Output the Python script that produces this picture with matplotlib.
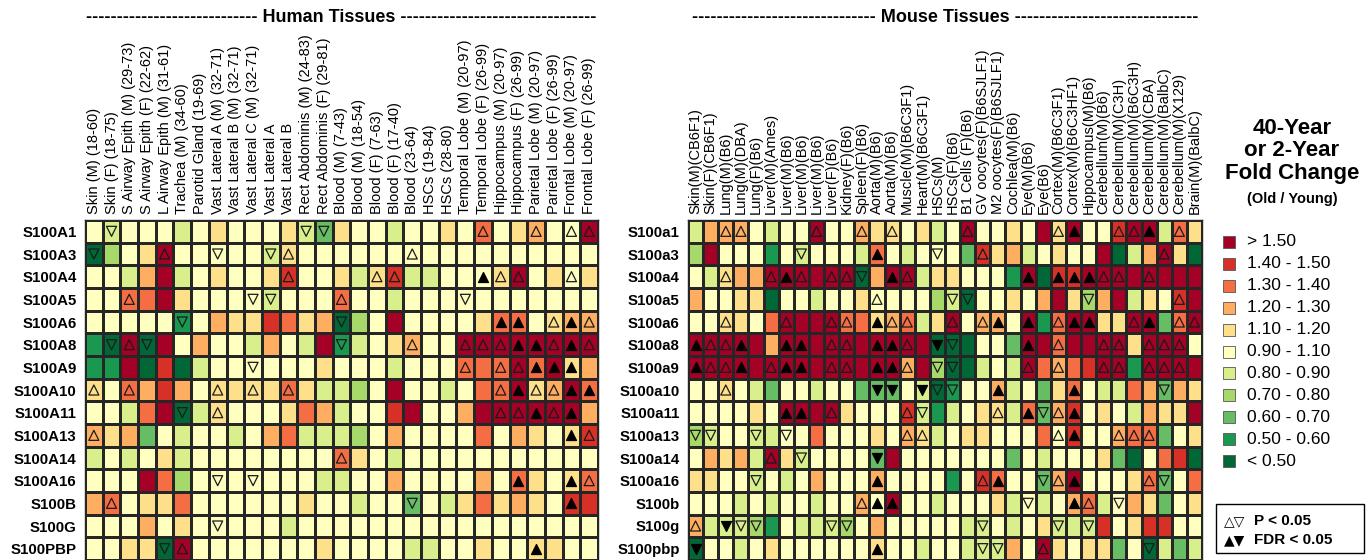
import numpy as np
import matplotlib
matplotlib.use('Agg')
import matplotlib.pyplot as plt
from matplotlib.colors import ListedColormap, BoundaryNorm
from matplotlib.patches import Rectangle

plt.rcParams['font.family'] = ['Liberation Sans', 'DejaVu Sans']


def row(s):
    # rows are typed in groups of five columns for readability
    return ''.join(s.split())


# fold-change bins: 0 = <0.50 ... 5 = 0.90-1.10 ... a(10) = >1.50
bin_labels = ['< 0.50', '0.50 - 0.60', '0.60 - 0.70', '0.70 - 0.80', '0.80 - 0.90',
              '0.90 - 1.10', '1.10 - 1.20', '1.20 - 1.30', '1.30 - 1.40',
              '1.40 - 1.50', '> 1.50']
bin_colors = ['#006837', '#1a9850', '#66bd63', '#a6d96a', '#d9ef8b', '#ffffbf',
              '#fee08b', '#fdae61', '#f46d43', '#d73027', '#a50026']

# significance: u/d = open up/down (P < 0.05), U/D = filled up/down (FDR < 0.05)

human_tissues = [
    'Skin (M) (18-60)', 'Skin (F) (18-75)', 'S Airway Epith (M) (29-73)',
    'S Airway Epith (F) (22-62)', 'L Airway Epith (M) (31-61)', 'Trachea (M) (34-60)',
    'Parotid Gland (19-69)', 'Vast Lateral A (M) (32-71)', 'Vast Lateral B (M) (32-71)',
    'Vast Lateral C (M) (32-71)', 'Vast Lateral A', 'Vast Lateral B',
    'Rect Abdominis (M) (24-83)', 'Rect Abdominis (F) (29-81)', 'Blood (M) (7-43)',
    'Blood (M) (18-54)', 'Blood (F) (7-63)', 'Blood (F) (17-40)', 'Blood (23-64)',
    'HSCs (19-84)', 'HSCs (28-80)', 'Temporal Lobe (M) (20-97)',
    'Temporal Lobe (F) (26-99)', 'Hippocampus (M) (20-97)', 'Hippocampus (F) (26-99)',
    'Parietal Lobe (M) (20-97)', 'Parietal Lobe (F) (26-99)',
    'Frontal Lobe (M) (20-97)', 'Frontal Lobe (F) (26-99)',
]
human_genes = ['S100A1', 'S100A3', 'S100A4', 'S100A5', 'S100A6', 'S100A8', 'S100A9',
               'S100A10', 'S100A11', 'S100A13', 'S100A14', 'S100A16', 'S100B',
               'S100G', 'S100PBP']
human_bins = [
    row('54555 45655 56426 55455 65856 755a'),
    row('0356a 55555 46555 55555 55555 5555'),
    row('5547a 45655 69556 46944 5556a 5656'),
    row('5588a 65555 45558 55455 55555 5555'),
    row('55555 15766 98670 35a55 55688 5677'),
    row('10a0a 57554 754a1 45675 5aaaa aaaa'),
    row('11a09 04555 55565 55455 5888a 8a67'),
    row('65879 75666 68644 35a55 4588a 67a8'),
    row('5548a 04655 56874 559a5 57aaa aaa7'),
    row('76725 45545 78444 35755 55857 6569'),
    row('45456 45555 55558 65455 55555 5555'),
    row('555a8 35555 55544 55755 55758 6568'),
    row('78566 85555 55655 45525 46867 6599'),
    row('55575 65555 54555 55555 55555 5555'),
    row('55660 a5555 55565 55544 55655 6655'),
]
human_sig = [
    row('.d... ..... ..dd. ..... ..u.. u.uu'),
    row('d...u ..d.. du... ...u. ..... ....'),
    row('..... ..... .u... .uu.. ..Uuu ..u.'),
    row('..u.. ....d d...u ..... .d... ....'),
    row('..... d.... ....d ..... ...UU .uUu'),
    row('.dud. ..... ....d ...u. .uuuU UuUu'),
    row('..... ....d ..... ..... .u.uu UUU.'),
    row('u.u.. ..u.u .u... ..... ...uU uuUU'),
    row('..... d.u.. ..... ..... ...uu UuU.'),
    row('u.... ..... ..... ..... ..... ..Uu'),
    row('..... ..... ....u ..... ..... ....'),
    row('..... ..d.d ..... ..... ....U ..Uu'),
    row('.u... ..... ..... ...d. ..... ..U.'),
    row('..... ..d.. ..... ..... ..... ....'),
    row('....d u.... ..... ..... ..... U...'),
]

mouse_tissues = [
    'Skin(M)(CB6F1)', 'Skin(F)(CB6F1)', 'Lung(M)(B6)', 'Lung(M)(DBA)', 'Lung(F)(B6)',
    'Liver(M)(Ames)', 'Liver(M)(B6)', 'Liver(M)(B6)', 'Liver(M)(B6)', 'Liver(F)(B6)',
    'Kidney(F)(B6)', 'Spleen(F)(B6)', 'Aorta(M)(B6)', 'Aorta(M)(B6)',
    'Muscle(M)(B6C3F1)', 'Heart(M)(B6C3F1)', 'HSCs(M)', 'HSCs(F)(B6)',
    'B1 Cells (F)(B6)', 'GV oocytes(F)(B6SJLF1)', 'M2 oocytes(F)(B6SJLF1)',
    'Cochlea(M)(B6)', 'Eye(M)(B6)', 'Eye(B6)', 'Cortex(M)(B6C3F1)',
    'Cortex(M)(B6C3HF1)', 'Hippocampus(M)(B6)', 'Cerebellum(M)(B6)',
    'Cerebellum(M)(C3H)', 'Cerebellum(M)(B6C3H)', 'Cerebellum(M)(CBA)',
    'Cerebellum(M)(BalbC)', 'Cerebellum(M)(X129)', 'Brain(M)(BalbC)',
]
mouse_genes = ['S100a1', 'S100a3', 'S100a4', 'S100a5', 'S100a6', 'S100a8', 'S100a9',
               'S100a10', 'S100a11', 'S100a13', 'S100a14', 'S100a16', 'S100b',
               'S100g', 'S100pbp']
mouse_bins = [
    row('47775 455a5 57665 645a5 565a6 a559a a486'),
    row('3a555 15455 54854 55529 67456 55a04 7a60'),
    row('54677 aaaaa a07aa 46655 51a09 9aaaa aaaa'),
    row('75566 05545 56555 53405 5657a 637a4 659a'),
    row('55665 8aaaa 88678 46a57 75a18 aa66a a28a'),
    row('aaaaa 7aaaa aaaaa a0005 52aa8 aaaa6 aaa5'),
    row('aaaaa aaaaa aaaa7 a3004 54a87 89aa1 aaaa'),
    row('55654 25545 52225 40155 74526 85448 7276'),
    row('55556 5aaaa 65559 41456 64827 95654 766a'),
    row('34554 45585 55657 64566 55585 95578 8256'),
    row('57674 a6455 552a5 55555 52545 55620 5890'),
    row('66554 54575 55755 55159 85527 a5556 8258'),
    row('55545 45545 575a5 54555 64545 78457 6256'),
    row('74443 15444 35755 55544 54564 44956 9955'),
    row('05545 65555 55655 45544 475a6 56625 0424'),
]
mouse_sig = [
    row('..uu. ...u. .u.u. ...u. ....u U..uu U.u.'),
    row('..... ..d.. ..U.. .d..u ..... ..... .u..'),
    row('..u.. uUu.u ud.Uu ..... ..U.U UUuu. u...'),
    row('..... ..... ..u.. ..dd. ..... .d... ..u.'),
    row('..u.. .u..u u.Uuu ..u.u U.U.u UU..u U.uu'),
    row('UuuU. .UU.u u.UUu .Dd.. ..U.u ..uu. uuu.'),
    row('UuuU. uUU.u u.UUu .dd.. ..u.u ..uu. uuu.'),
    row('..u.. ..... ..DD. Ddd.. U.... U.... .d..'),
    row('..... .UU.u ....u d.... u.Udu U.... ....'),
    row('dd..d .d... ....u u.... ....u U..uu u...'),
    row('..... u.d.. ..D.. ..... ..... ..... ....'),
    row('....d ..... ..U.. ....u U..du U.... ud..'),
    row('..... ..... .uUU. ..... ..d.. Uu.d. ....'),
    row('u.Ddd ....d d.... ....d ....d .d... ....'),
    row('D.... ..... ..U.. ....d d..u. ..... d...'),
]

cmap = ListedColormap(bin_colors)
norm = BoundaryNorm(np.arange(-0.5, len(bin_colors)), cmap.N)

marker_styles = {
    'u': dict(marker='^', facecolors='none', edgecolors='#1a1a1a'),
    'd': dict(marker='v', facecolors='none', edgecolors='#1a1a1a'),
    'U': dict(marker='^', facecolors='black', edgecolors='black'),
    'D': dict(marker='v', facecolors='black', edgecolors='black'),
}

W, H = 1368, 560
fig = plt.figure(figsize=(W / 100, H / 100), dpi=100)


def draw_panel(rect, tissues, genes, bins, sig, title, dash_l, dash_r):
    ax = fig.add_axes([rect[0] / W, 1 - rect[3] / H, (rect[2] - rect[0]) / W,
                       (rect[3] - rect[1]) / H])
    levels = np.array([[int(c, 16) for c in r] for r in bins])
    nrow, ncol = levels.shape
    ax.pcolormesh(np.arange(ncol + 1), np.arange(nrow + 1), levels, cmap=cmap,
                  norm=norm, edgecolors='#262626', linewidth=0.9)
    for key, style in marker_styles.items():
        pts = [(j + 0.5, i + 0.5) for i, r in enumerate(sig)
               for j, c in enumerate(r) if c == key]
        if pts:
            xs, ys = zip(*pts)
            ax.scatter(xs, ys, s=52, linewidths=0.9, zorder=3, **style)
    ax.set_xlim(0, ncol)
    ax.set_ylim(nrow, 0)
    ax.xaxis.tick_top()
    ax.set_xticks(np.arange(ncol) + 0.5)
    ax.set_xticklabels(tissues, rotation=90, fontsize=10.5)
    ax.set_yticks(np.arange(nrow) + 0.5)
    ax.set_yticklabels(genes, fontsize=10.8, fontweight='bold')
    ax.tick_params(length=0, pad=4)
    ax.tick_params(axis='y', pad=6)
    for sp in ax.spines.values():
        sp.set_linewidth(1.0)
        sp.set_color('#262626')
    fig.text((rect[0] + rect[2]) / 2 / W, 1 - 18 / H,
             f'{"-" * dash_l} {title} {"-" * dash_r}', ha='center', va='center',
             fontsize=13, fontweight='bold')
    return ax


draw_panel((85, 220, 598, 560), human_tissues, human_genes, human_bins,
           human_sig, 'Human Tissues', 28, 32)
draw_panel((688, 220, 1202, 560), mouse_tissues, mouse_genes, mouse_bins,
           mouse_sig, 'Mouse Tissues', 30, 30)

# legend drawn in pixel coordinates
lax = fig.add_axes([0, 0, 1, 1])
lax.set_xlim(0, W)
lax.set_ylim(H, 0)
lax.axis('off')

for k, line in enumerate(['40-Year', 'or 2-Year', 'Fold Change']):
    lax.text(1292, 128 + k * 23, line, ha='center', va='center',
             fontsize=16, fontweight='bold')
lax.text(1292, 199, '(Old / Young)', ha='center', va='center',
         fontsize=10.5, fontweight='bold')

for k in range(len(bin_labels)):
    lvl = len(bin_labels) - 1 - k
    y = 242 + k * 21.9
    lax.add_patch(Rectangle((1223, y - 6), 12, 12, facecolor=bin_colors[lvl],
                            edgecolor='#555555', linewidth=0.6))
    lax.text(1247, y, bin_labels[lvl], ha='left', va='center', fontsize=12.5)

lax.add_patch(Rectangle((1216, 504), 148, 49, facecolor='none',
                        edgecolor='black', linewidth=1.0))
lax.text(1224, 521, '△▽', ha='left', va='center', fontsize=10,
         family=['DejaVu Sans'])
lax.text(1254, 521, 'P < 0.05', ha='left', va='center', fontsize=11,
         fontweight='bold')
lax.text(1224, 540, '▲▼', ha='left', va='center', fontsize=10,
         family=['DejaVu Sans'])
lax.text(1254, 540, 'FDR < 0.05', ha='left', va='center', fontsize=11,
         fontweight='bold')

fig.savefig('out.png', dpi=100)
